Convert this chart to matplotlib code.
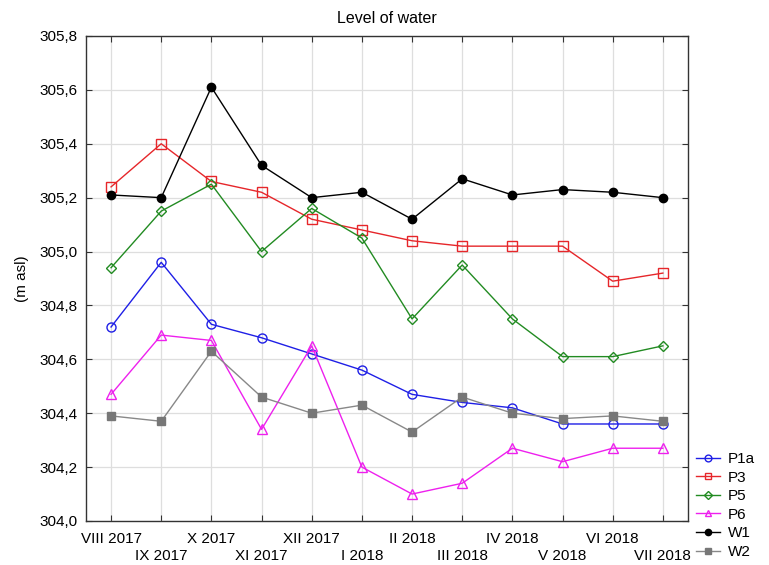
import matplotlib
matplotlib.use("Agg")
import matplotlib.pyplot as plt
from matplotlib.ticker import FuncFormatter, MultipleLocator

plt.rcParams['font.family'] = ['Liberation Sans', 'DejaVu Sans']

months = ["VIII 2017", "IX 2017", "X 2017", "XI 2017", "XII 2017", "I 2018",
          "II 2018", "III 2018", "IV 2018", "V 2018", "VI 2018", "VII 2018"]

p1a = [304.72, 304.96, 304.73, 304.68, 304.62, 304.56, 304.47, 304.44, 304.42, 304.36, 304.36, 304.36]
p3 = [305.24, 305.40, 305.26, 305.22, 305.12, 305.08, 305.04, 305.02, 305.02, 305.02, 304.89, 304.92]
p5 = [304.94, 305.15, 305.25, 305.00, 305.16, 305.05, 304.75, 304.95, 304.75, 304.61, 304.61, 304.65]
p6 = [304.47, 304.69, 304.67, 304.34, 304.65, 304.20, 304.10, 304.14, 304.27, 304.22, 304.27, 304.27]
w1 = [305.21, 305.20, 305.61, 305.32, 305.20, 305.22, 305.12, 305.27, 305.21, 305.23, 305.22, 305.20]
w2 = [304.39, 304.37, 304.63, 304.46, 304.40, 304.43, 304.33, 304.46, 304.40, 304.38, 304.39, 304.37]

fig = plt.figure(figsize=(7.69, 5.65), dpi=100)
ax = fig.add_axes([0.1118, 0.0779, 0.7828, 0.8584])

x = list(range(len(months)))
ax.plot(x, p1a, color='#1f1fe6', marker='o', ms=6.5, mfc='none', mew=1.0, lw=1.0, label='P1a')
ax.plot(x, p3, color='#e6262a', marker='s', ms=6.5, mfc='none', mew=1.0, lw=1.0, label='P3')
ax.plot(x, p5, color='#228b22', marker='D', ms=5.2, mfc='none', mew=1.0, lw=1.0, label='P5')
ax.plot(x, p6, color='#ee20ee', marker='^', ms=6.5, mfc='none', mew=1.0, lw=1.0, label='P6')
ax.plot(x, w1, color='black', marker='o', ms=6, mfc='black', lw=1.0, label='W1')
ax.plot(x, w2, color='#888888', marker='s', ms=6, mfc='#777777', mec='#777777', lw=1.0, label='W2')

ax.set_xlim(-0.5, 11.5)
ax.set_ylim(304.0, 305.8)
ax.yaxis.set_major_locator(MultipleLocator(0.2))
ax.yaxis.set_major_formatter(FuncFormatter(lambda v, p: f"{v:.1f}".replace('.', ',')))

# month labels alternate between two rows
ax.set_xticks(x[0::2])
ax.set_xticklabels(months[0::2])
ax.set_xticks(x[1::2], minor=True)
ax.set_xticklabels(months[1::2], minor=True)

ax.tick_params(axis='both', which='both', direction='in', labelsize=11, length=4,
               width=0.8, top=True, right=True, color='#333333')
ax.tick_params(axis='x', which='major', pad=8)
ax.tick_params(axis='x', which='minor', pad=20)
ax.tick_params(axis='y', pad=6)
ax.grid(True, which='both', color='#dedede', lw=0.9)
ax.set_axisbelow(True)
for s in ax.spines.values():
    s.set_color('#333333')
    s.set_linewidth(1.0)

ax.set_title("Level of water", fontsize=11.5, pad=9)
ax.set_ylabel("(m asl)", fontsize=11)
ax.yaxis.set_label_coords(-0.095, 0.5)

fig.legend(loc='upper left', bbox_to_anchor=(0.905, 0.2), frameon=False,
           fontsize=11, handlelength=1.6, handletextpad=0.5, labelspacing=0.3,
           markerscale=0.75, borderaxespad=0, borderpad=0)

fig.savefig("out.png", dpi=100)
